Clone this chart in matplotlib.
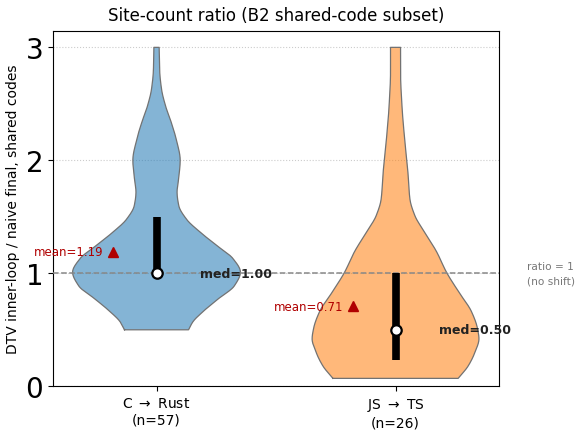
import matplotlib
matplotlib.use("Agg")
import matplotlib.pyplot as plt
import numpy as np

# ---- data ----
groups = ["C $\\rightarrow$ Rust\n(n=57)", "JS $\\rightarrow$ TS\n(n=26)"]
positions = [0, 1]
colors = ["#1f77b4", "#ff7f0e"]

# violin outline profiles: y value and half-width (in x data units)
c_rust_y = [0.50, 0.57, 0.66, 0.77, 0.89, 1.01, 1.13, 1.24, 1.36, 1.48, 1.60,
            1.72, 1.83, 2.00, 2.19, 2.34, 2.48, 2.63, 2.80, 3.00]
c_rust_w = [0.134, 0.152, 0.194, 0.256, 0.326, 0.351, 0.320, 0.256, 0.185, 0.125, 0.093,
            0.086, 0.092, 0.099, 0.082, 0.061, 0.038, 0.021, 0.013, 0.011]
js_ts_y = [0.07, 0.18, 0.30, 0.42, 0.51, 0.66, 0.83, 1.01, 1.19, 1.36, 1.51,
           1.66, 1.89, 2.19, 2.48, 2.78, 3.00]
js_ts_w = [0.262, 0.304, 0.332, 0.349, 0.343, 0.318, 0.266, 0.213, 0.172, 0.123, 0.081,
           0.060, 0.052, 0.038, 0.027, 0.021, 0.021]
profiles_y = [c_rust_y, js_ts_y]
profiles_w = [c_rust_w, js_ts_w]

q1 = [1.00, 0.23]
q3 = [1.50, 1.00]
medians = [1.00, 0.50]
means = [1.19, 0.71]

yticks = [0, 1, 2, 3]


def smooth_outline(y, w, n=400):
    """Monotone cubic (PCHIP) curve through the read outline points, for drawing."""
    y = np.asarray(y, float)
    w = np.asarray(w, float)
    h = np.diff(y)
    d = np.diff(w) / h
    m = np.zeros_like(w)
    for k in range(1, len(w) - 1):
        if d[k - 1] * d[k] > 0:
            w1 = 2 * h[k] + h[k - 1]
            w2 = h[k] + 2 * h[k - 1]
            m[k] = (w1 + w2) / (w1 / d[k - 1] + w2 / d[k])
    m[0] = d[0]
    m[-1] = d[-1]
    yy = np.linspace(y[0], y[-1], n)
    idx = np.clip(np.searchsorted(y, yy) - 1, 0, len(y) - 2)
    t = (yy - y[idx]) / h[idx]
    h00 = 2 * t**3 - 3 * t**2 + 1
    h10 = t**3 - 2 * t**2 + t
    h01 = -2 * t**3 + 3 * t**2
    h11 = t**3 - t**2
    ww = h00 * w[idx] + h10 * h[idx] * m[idx] + h01 * w[idx + 1] + h11 * h[idx] * m[idx + 1]
    return yy, ww


# ---- figure ----
fig = plt.figure(figsize=(5.84, 4.35), dpi=100)
ax = fig.add_axes([0.0908, 0.1097, 0.7637, 0.8173])

ax.grid(axis="y", linestyle=":", color="#cccccc", linewidth=0.8, zorder=0)
ax.set_axisbelow(True)

for pos, ys, ws, col in zip(positions, profiles_y, profiles_w, colors):
    ys, ws = smooth_outline(ys, ws)
    ax.fill_betweenx(ys, pos - ws, pos + ws, facecolor=col, alpha=0.55,
                     edgecolor="none", zorder=2)
    xs = np.concatenate([pos - ws, (pos + ws)[::-1], [pos - ws[0]]])
    yy = np.concatenate([ys, ys[::-1], [ys[0]]])
    ax.plot(xs, yy, color="#727272", linewidth=0.9, zorder=3)

ax.axhline(1.0, color="#888888", linestyle="--", linewidth=1.1, zorder=3)

for pos, lo, hi, med, mean in zip(positions, q1, q3, medians, means):
    ax.vlines(pos, lo, hi, color="black", linewidth=5.5, zorder=4)
    ax.plot(pos, med, "o", markersize=7.5, markerfacecolor="white",
            markeredgecolor="black", markeredgewidth=1.6, zorder=5)
    ax.plot(pos - 0.18, mean, "^", markersize=7, color="#b00000", zorder=5)
    ax.text(pos - 0.18 - 0.04, mean, f"mean={mean:.2f}", color="#b00000",
            fontsize=8.5, ha="right", va="center", zorder=6)
    ax.text(pos + 0.18, med, f"med={med:.2f}", color="#222222", fontsize=9,
            fontweight="bold", ha="left", va="center", zorder=6)

ax.text(1.062, 1.0, "ratio = 1\n(no shift)", transform=ax.get_yaxis_transform(),
        color="#777777", fontsize=7.6, ha="left", va="center", linespacing=1.5)

ax.set_xlim(-0.433, 1.433)
ax.set_ylim(0, 3.147)
ax.set_xticks(positions)
ax.set_xticklabels(groups, fontsize=10)
ax.set_yticks(yticks)
ax.set_yticklabels([str(t) for t in yticks], fontsize=20)
ax.set_ylabel("DTV inner-loop / naive final, shared codes", fontsize=10)
ax.set_title("Site-count ratio (B2 shared-code subset)", fontsize=12, pad=8)

fig.savefig("out.png", dpi=100)
